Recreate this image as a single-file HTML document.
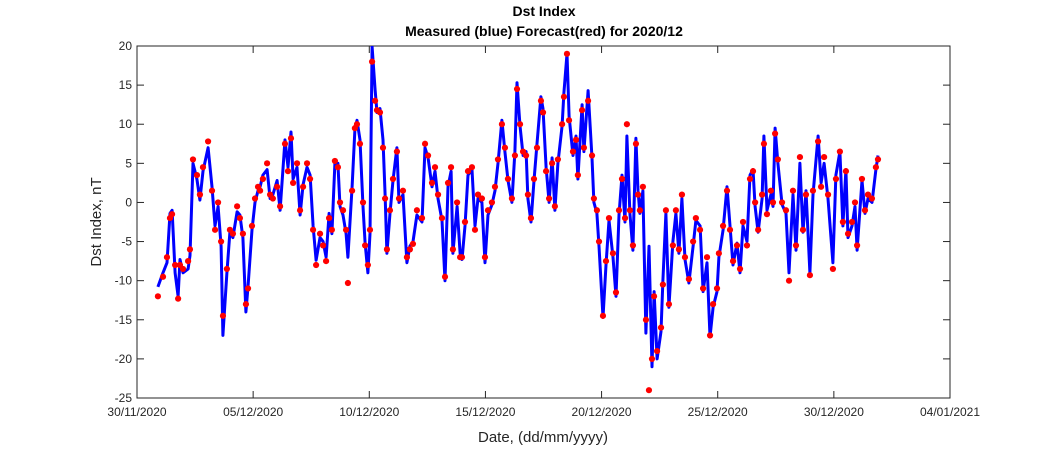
<!DOCTYPE html>
<html><head><meta charset="utf-8"><style>
body{margin:0;background:#fff;width:1050px;height:450px;overflow:hidden;font-family:"Liberation Sans",Arial,sans-serif}
svg text{font-family:"Liberation Sans",Arial,sans-serif}
</style></head><body>
<svg id="chart" width="1050" height="450" xmlns="http://www.w3.org/2000/svg">
<rect x="0" y="0" width="1050" height="450" fill="#fff"/>
<text x="544" y="16" text-anchor="middle" font-size="14" font-weight="bold" fill="#000">Dst Index</text>
<text x="544" y="36" text-anchor="middle" font-size="14" font-weight="bold" fill="#000">Measured (blue) Forecast(red) for 2020/12</text>
<text x="543" y="442" text-anchor="middle" font-size="15" fill="#262626">Date, (dd/mm/yyyy)</text>
<text transform="translate(101,222) rotate(-90)" text-anchor="middle" font-size="15" fill="#262626">Dst Index, nT</text>
<g id="axes"></g>
<g id="series"></g>
</svg>
<script>
const yTicks=[20,15,10,5,0,-5,-10,-15,-20,-25];
const xTickDays=[0,5,10,15,20,25,30,35];
const xTickLabels=["30/11/2020","05/12/2020","10/12/2020","15/12/2020","20/12/2020","25/12/2020","30/12/2020","04/01/2021"];
const days=[0.90,1.12,1.29,1.42,1.51,1.64,1.77,1.85,1.98,2.20,2.28,2.41,2.58,2.71,2.84,3.06,3.23,3.36,3.49,3.62,3.70,3.87,4.00,4.13,4.31,4.43,4.56,4.69,4.78,4.95,5.08,5.21,5.30,5.42,5.60,5.73,5.85,6.03,6.16,6.37,6.50,6.63,6.72,6.89,7.02,7.15,7.32,7.45,7.58,7.71,7.88,8.01,8.14,8.27,8.39,8.52,8.65,8.74,8.87,9.00,9.08,9.26,9.38,9.47,9.60,9.73,9.82,9.94,10.03,10.12,10.25,10.33,10.46,10.59,10.68,10.76,10.89,11.02,11.19,11.28,11.45,11.62,11.75,11.88,12.05,12.27,12.40,12.53,12.70,12.83,12.96,13.13,13.26,13.39,13.52,13.60,13.78,13.91,13.99,14.12,14.25,14.42,14.55,14.68,14.85,14.98,15.11,15.28,15.41,15.54,15.71,15.84,15.97,16.14,16.27,16.36,16.49,16.62,16.75,16.83,16.96,17.09,17.22,17.39,17.48,17.61,17.74,17.87,17.99,18.12,18.30,18.38,18.51,18.60,18.77,18.90,18.98,19.16,19.24,19.42,19.59,19.67,19.80,19.89,20.06,20.19,20.32,20.49,20.62,20.75,20.88,21.01,21.09,21.22,21.35,21.48,21.57,21.65,21.78,21.91,22.04,22.17,22.26,22.39,22.56,22.64,22.77,22.90,23.07,23.20,23.33,23.46,23.59,23.76,23.94,24.06,24.24,24.37,24.54,24.67,24.80,24.97,25.05,25.23,25.40,25.53,25.66,25.83,25.96,26.09,26.26,26.39,26.52,26.61,26.74,26.91,26.99,27.12,27.29,27.38,27.47,27.59,27.77,27.94,28.07,28.24,28.37,28.54,28.67,28.80,28.97,29.10,29.32,29.45,29.58,29.75,29.96,30.09,30.26,30.39,30.52,30.61,30.78,30.91,31.00,31.21,31.34,31.47,31.64,31.81,31.90];
const measured=[-10.8,-9,-7.7,-1.4,-1,-9,-12,-7.3,-9,-8.5,-6.8,5,3,0.3,4,7,2,-3,-0.5,-5.6,-17,-9,-3.8,-4.5,-1.2,-1.6,-4.5,-14,-10.8,-3.5,0,1.5,2,3.5,4.2,0.5,1,2.8,-1,8,4.5,9,3,4.5,-1.6,2.3,4.5,3.5,-3,-7.4,-4.5,-5,-7,-1.4,-4,5,5,-0.5,-1.6,-4,-7,2,9.3,10.5,8,-0.5,-5.2,-9,-4,19.9,14.4,11.5,12,8,1,-6.5,-1.4,2.8,7,0,1,-7.7,-5.6,-5,-1.6,-2.5,7,5.7,2,4,0.5,-2.3,-10,2,4,-6.5,-0.5,-6.5,-7.3,-3,3.5,4.2,-3,0.5,0,-7.7,-1.6,-0.3,1.5,5,10.5,6.5,2.8,0,6.5,15.3,9.8,6,6.5,0.5,-2.5,2.8,7.5,13.5,12,4.5,0,5.7,-1,5,9.8,14,19,11,6,8.5,3,12.5,6.5,14.3,5.7,0,-1.4,-5.6,-14.7,-8,-2.3,-7,-12,-1.6,3.5,-2.5,8.5,-1.4,-6.1,8.2,1.5,-1.4,1.5,-16.7,-5.6,-21,-11.4,-20,-16.5,-10,-1.4,-13.4,-5,-1.4,-6.5,0.5,-7.3,-10.3,-5.6,-2.3,-3,-11.4,-7.7,-17.2,-13.4,-11.4,-7,-3.5,2,-3,-8,-5.2,-9,-3,-5,3.5,4.2,-0.5,-3.8,0.5,8.5,-1,1,-0.5,9.5,5,-0.3,-1.4,-9,1,-6.1,5,-3.8,1.5,-9,1,8.5,2.5,5,0.5,-7.7,3.5,6.5,-3,4.2,-4.5,-3,-0.5,-6.1,2.8,-1.4,0.5,0,4.2,6];
const forecast=[-12,-9.5,-7,-2,-1.5,-8,-12.3,-8,-8.5,-7.5,-6,5.5,3.5,1,4.5,7.8,1.5,-3.5,0,-5,-14.5,-8.5,-3.5,-4,-0.5,-2,-4,-13,-11,-3,0.5,2,1.5,3,5,1,0.5,2,-0.5,7.5,4,8.2,2.5,5,-1,2,5,3,-3.5,-8,-4,-5.5,-7.5,-2,-3.5,5.3,4.5,0,-1,-3.5,-10.3,1.5,9.5,10,7.5,0,-5.5,-8,-3.5,18,13,11.8,11.5,7,0.5,-6,-1,3,6.5,0.5,1.5,-7,-6,-5.3,-1,-2,7.5,6,2.5,4.5,1,-2,-9.5,2.5,4.5,-6,0,-7,-7,-2.5,4,4.5,-3.5,1,0.5,-7,-1,0,2,5.5,10,7,3,0.5,6,14.5,10,6.5,6,1,-2,3,7,13,11.5,4,0.5,5,-0.5,5.5,10,13.5,19,10.5,6.5,8,3.5,11.8,7,13,6,0.5,-1,-5,-14.5,-7.5,-2,-6.5,-11.5,-1,3,-2,10,-1,-5.5,7.5,1,-1,2,-15,-24,-20,-12,-19,-16,-10.5,-1,-13,-5.5,-1,-6,1,-7,-9.8,-5,-2,-3.5,-11,-7,-17,-13,-11,-6.5,-3,1.5,-3.5,-7.5,-5.5,-8.5,-2.5,-5.5,3,4,0,-3.5,1,7.5,-1.5,1.5,0,8.8,5.5,0,-1,-10,1.5,-5.5,5.8,-3.5,1,-9.3,1.5,7.8,2,5.8,1,-8.5,3,6.5,-2.5,4,-4,-2.5,0,-5.5,3,-1,1,0.5,4.5,5.5];

const NS='http://www.w3.org/2000/svg';
const L=137,R=950,T=46,B=398,dMin=0,dMax=35,vMin=-25,vMax=20;
function xs(d){return L+(d-dMin)/(dMax-dMin)*(R-L);}
function ys(v){return B-(v-vMin)/(vMax-vMin)*(B-T);}
function mk(tag,attrs,parent){const e=document.createElementNS(NS,tag);for(const k in attrs)e.setAttribute(k,attrs[k]);parent.appendChild(e);return e;}
const axes=document.getElementById('axes'),series=document.getElementById('series');
const box=mk('rect',{x:L,y:T,width:R-L,height:B-T,fill:'none',stroke:'#262626','stroke-width':1},axes);


yTicks.forEach(v=>{
  const y=ys(v);
  const t1=mk('line',{x1:L,x2:L+7,y1:y,y2:y,stroke:'#262626'},axes);
  
  
  const t2=mk('line',{x1:R-7,x2:R,y1:y,y2:y,stroke:'#262626'},axes);
  
  
  const tx=mk('text',{x:L-5,y:y+4,'text-anchor':'end','font-size':12,fill:'#262626'},axes);
  tx.textContent=v;
  
  
});
xTickDays.forEach((d,i)=>{
  const x=xs(d);
  const t1=mk('line',{x1:x,x2:x,y1:B,y2:B-7,stroke:'#262626'},axes);
  
  
  const t2=mk('line',{x1:x,x2:x,y1:T,y2:T+7,stroke:'#262626'},axes);
  
  
  const tx=mk('text',{x:x,y:B+18,'text-anchor':'middle','font-size':12,fill:'#262626'},axes);
  tx.textContent=xTickLabels[i];
  
  
});
const clip=mk('clipPath',{id:'pc'},series);
mk('rect',{x:L,y:T,width:R-L,height:B-T},clip);
const pts=days.map((d,i)=>xs(d).toFixed(1)+','+ys(measured[i]).toFixed(1)).join(' ');
const line=mk('polyline',{points:pts,fill:'none',stroke:'#0000ff','stroke-width':3,'stroke-linejoin':'round','clip-path':'url(#pc)'},series);


days.forEach((d,i)=>{
  const c=mk('circle',{cx:xs(d),cy:ys(forecast[i]),r:3.1,fill:'#ff0000'},series);
  
  
});
</script>
</body></html>
